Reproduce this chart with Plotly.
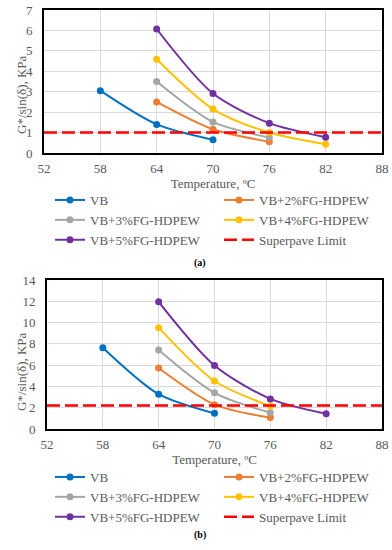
import plotly.graph_objects as go
from plotly.subplots import make_subplots

temps_vb = [58, 64, 70]
temps_2 = [64, 70, 76]
temps_3 = [64, 70, 76]
temps_4 = [64, 70, 76, 82]
temps_5 = [64, 70, 76, 82]

# (a)
a_vb = [3.05, 1.40, 0.65]
a_2 = [2.50, 1.16, 0.55]
a_3 = [3.50, 1.52, 0.76]
a_4 = [4.59, 2.15, 1.00, 0.43]
a_5 = [6.07, 2.91, 1.46, 0.77]
a_limit = 1.0

# (b)
b_vb = [7.64, 3.27, 1.47]
b_2 = [5.73, 2.29, 1.07]
b_3 = [7.42, 3.40, 1.53]
b_4 = [9.52, 4.51, 2.15]
b_5 = [11.95, 5.97, 2.83, 1.43]
b_limit = 2.2

x_range = [52, 88]
x_ticks = [52, 58, 64, 70, 76, 82, 88]

names = ["VB", "VB+2%FG-HDPEW", "VB+3%FG-HDPEW", "VB+4%FG-HDPEW", "VB+5%FG-HDPEW"]
colors = ["#0070C0", "#ED7D31", "#A5A5A5", "#FFC000", "#7030A0"]
limit_name = "Superpave Limit"
y_title = "G*/sin(δ), KPa"
x_title = "Temperature, ºC"

FONT = "Liberation Serif"
TXT = "#595959"

W, H = 392, 550


def px(x):
    return x / W


def py(y):
    return 1 - y / H


fig = make_subplots(rows=2, cols=1)

series_a = [(temps_vb, a_vb), (temps_2, a_2), (temps_3, a_3), (temps_4, a_4), (temps_5, a_5)]
series_b = [(temps_vb, b_vb), (temps_2, b_2), (temps_3, b_3), (temps_4, b_4), (temps_5, b_5)]

for row, series, limit, leg in [(1, series_a, a_limit, "legend"), (2, series_b, b_limit, "legend2")]:
    for (xs, ys), nm, c in zip(series, names, colors):
        fig.add_trace(go.Scatter(x=xs, y=ys, name=nm, mode="lines+markers",
                                 line=dict(color=c, width=2, shape="spline", smoothing=0.8),
                                 marker=dict(color=c, size=7),
                                 legend=leg), row=row, col=1)
    fig.add_trace(go.Scatter(x=x_range, y=[limit, limit], name=limit_name, mode="lines",
                             line=dict(color="#FF0000", width=2.5, dash="13px,5px"),
                             legend=leg), row=row, col=1)

axis_common = dict(showgrid=True, gridcolor="#D9D9D9", gridwidth=1,
                   showline=True, linecolor="black", linewidth=2, mirror=True,
                   zeroline=False, ticks="", automargin=False,
                   tickfont=dict(family=FONT, size=13, color=TXT))

fig.update_xaxes(range=x_range, tickvals=x_ticks, ticklabelstandoff=2,
                 title=dict(text=x_title, font=dict(family=FONT, size=13, color=TXT), standoff=3),
                 **axis_common)
fig.update_yaxes(ticklabelstandoff=7, **axis_common)
fig.update_yaxes(range=[0, 7], dtick=1, row=1, col=1)
fig.update_yaxes(range=[0, 14], dtick=2, row=2, col=1)

fig.update_layout(
    xaxis=dict(domain=[px(44), px(382)]),
    yaxis=dict(domain=[py(153), py(10)]),
    xaxis2=dict(domain=[px(47), px(382)]),
    yaxis2=dict(domain=[py(429), py(280)]),
)

# y-axis titles (placed as in the reference, slightly below the plot centre)
for yy in (95, 372):
    fig.add_annotation(text=y_title, textangle=-90, x=px(21), y=py(yy), xref="paper", yref="paper",
                       xanchor="center", yanchor="middle", showarrow=False,
                       font=dict(family=FONT, size=13, color=TXT))

leg_common = dict(orientation="h", entrywidth=124, entrywidthmode="pixels",
                  font=dict(family=FONT, size=13, color=TXT), bgcolor="rgba(0,0,0,0)",
                  tracegroupgap=0, itemwidth=30, xanchor="left", yanchor="top", traceorder="normal")
fig.update_layout(
    legend=dict(x=px(50), y=py(185), **leg_common),
    legend2=dict(x=px(50), y=py(462), **leg_common),
)

fig.add_annotation(text="<b>(a)</b>", x=px(200), y=py(263), xref="paper", yref="paper",
                   xanchor="center", yanchor="middle",
                   showarrow=False, font=dict(family=FONT, size=10, color="black"))
fig.add_annotation(text="<b>(b)</b>", x=px(200), y=py(535), xref="paper", yref="paper",
                   xanchor="center", yanchor="middle",
                   showarrow=False, font=dict(family=FONT, size=10, color="black"))

fig.update_layout(width=W, height=H, margin=dict(l=0, r=0, t=0, b=0, autoexpand=False),
                  paper_bgcolor="white", plot_bgcolor="white", showlegend=True)

fig.write_html("out.html", config={"displayModeBar": False},
               post_script="document.body.style.margin='0';document.body.style.overflow='hidden';")
